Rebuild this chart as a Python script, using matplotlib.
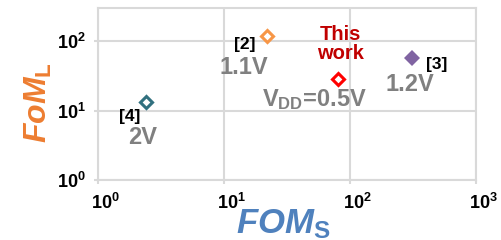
import matplotlib
matplotlib.use("Agg")
import matplotlib.pyplot as plt
import matplotlib.transforms as mtransforms

plt.rcParams['font.family'] = ['Liberation Sans', 'DejaVu Sans']
plt.rcParams['font.weight'] = 'bold'
plt.rcParams['mathtext.fontset'] = 'custom'
plt.rcParams['mathtext.rm'] = 'Liberation Sans:bold'
plt.rcParams['mathtext.bf'] = 'Liberation Sans:bold'
plt.rcParams['mathtext.it'] = 'Liberation Sans:bold:italic'

# data
refs = ['[4]', '[2]', 'This\nwork', '[3]']
fom_s = [2.4, 22, 80, 310]
fom_l = [13.3, 118, 28.4, 57]
vdd = ['2V', '1.1V', r'$\mathbf{V_{DD}}$=0.5V', '1.2V']
colors = ['#31707F', '#F79646', '#FF0000', '#8064A2']
filled = [False, False, False, True]

# label offsets from the marker, in pixels
ref_off = [(-16, -15), (-22, -8), (3, 35), (25, -6)]
vdd_off = [(-3, -36), (-23, -31), (-23, -20), (-2, -26)]
ref_col = ['black', 'black', '#C00000', 'black']

fig = plt.figure(figsize=(5.02, 2.40), dpi=100)
ax = fig.add_axes([98 / 502, 1 - 180 / 240, 378 / 502, 172 / 240])

for i in range(len(refs)):
    ax.plot(fom_s[i], fom_l[i], 'D', ms=8 if filled[i] else 6,
            mew=0 if filled[i] else 2.2, mec=colors[i],
            mfc=colors[i] if filled[i] else 'white', zorder=3)
    ax.annotate(refs[i], (fom_s[i], fom_l[i]), xytext=ref_off[i],
                textcoords='offset pixels', ha='center', va='center',
                fontsize=14.5 if i == 2 else 12.5, color=ref_col[i],
                fontweight='bold', linespacing=1.0)
    ax.annotate(vdd[i], (fom_s[i], fom_l[i]), xytext=vdd_off[i],
                textcoords='offset pixels', ha='center', va='center',
                fontsize=17, color='#808080', fontweight='bold')

ax.set_xscale('log')
ax.set_yscale('log')
ax.set_xlim(1, 1000)
ax.set_ylim(1, 300)
ax.set_xticks([1, 10, 100, 1000])
ax.set_xticklabels([r'$\mathbf{10^{%d}}$' % k for k in range(4)])
ax.set_yticks([1, 10, 100])
ax.set_yticklabels([r'$\mathbf{10^{%d}}$' % k for k in range(3)])
ax.minorticks_off()
ax.tick_params(labelsize=13, colors='#D9D9D9', labelcolor='black',
               length=3, width=1.5, pad=6)
shift = mtransforms.ScaledTranslation(7 / 100, 0, fig.dpi_scale_trans)
for lab in ax.get_xticklabels():
    lab.set_transform(lab.get_transform() + shift)
ax.grid(True, color='#D9D9D9', lw=1.5)
ax.set_axisbelow(True)
for s in ax.spines.values():
    s.set_color('#D9D9D9')
    s.set_linewidth(1.5)

fig.text(283 / 502, 1 - 224 / 240, r'$FOM_{\mathrm{S}}$', color='#4F81BD',
         fontsize=25, ha='center', va='center')
fig.text(38 / 502, 1 - 103 / 240, r'$FoM_{\mathrm{L}}$', color='#ED7D31',
         fontsize=23, ha='center', va='center', rotation=90)

fig.savefig('out.png', dpi=100)
